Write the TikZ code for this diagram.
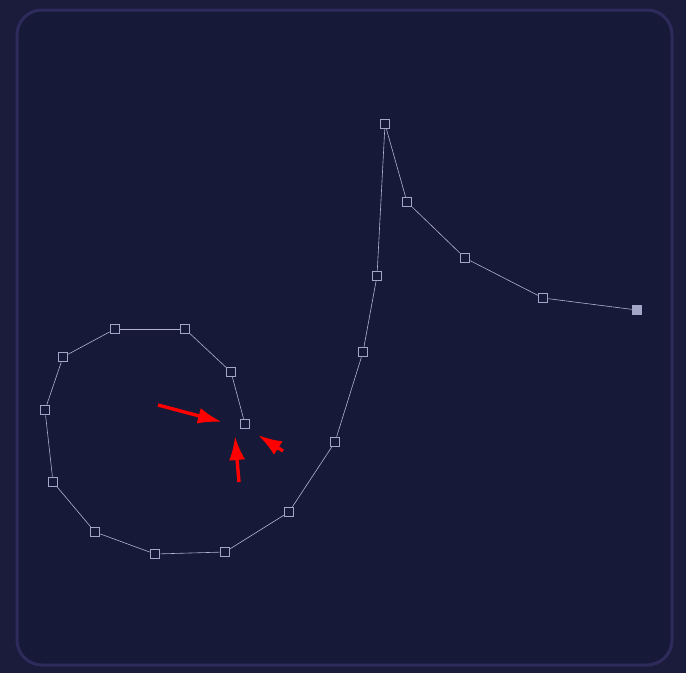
\documentclass[tikz,border=0pt]{standalone}
\usetikzlibrary{arrows.meta}
\definecolor{outerbg}{HTML}{1B1C3C}
\definecolor{innerbg}{HTML}{161A38}
\definecolor{frame}{HTML}{2E2A5C}
\definecolor{knot}{HTML}{A3A6C6}
\begin{document}
\begin{tikzpicture}[x=1pt, y=-1pt, pt/.style={draw=knot, line width=1.6pt, minimum size=9pt, inner sep=0pt}, endpt/.style={fill=knot, minimum size=10pt, inner sep=0pt}, seg/.style={draw=knot!85, line width=0.6pt}, arrow/.style={red, line width=3.4pt, -{Latex[length=24pt, width=16pt]}}]

\fill[outerbg] (0,0) rectangle (686,673);
\useasboundingbox (0,0) rectangle (686,673);
\draw[frame, fill=innerbg, line width=3pt, rounded corners=25pt] (17,10) rectangle (672,665);

\node[endpt] (p1) at (637,310) {};
\node[pt] (p2) at (543,298) {};
\node[pt] (p3) at (465,258) {};
\node[pt] (p4) at (407,202) {};
\node[pt] (p5) at (385,124) {};
\node[pt] (p6) at (377,276) {};
\node[pt] (p7) at (363,352) {};
\node[pt] (p8) at (335,442) {};
\node[pt] (p9) at (289,512) {};
\node[pt] (p10) at (225,552) {};
\node[pt] (p11) at (155,554) {};
\node[pt] (p12) at (95,532) {};
\node[pt] (p13) at (53,482) {};
\node[pt] (p14) at (45,410) {};
\node[pt] (p15) at (63,357) {};
\node[pt] (p16) at (115,329) {};
\node[pt] (p17) at (185,329) {};
\node[pt] (p18) at (231,372) {};
\node[pt] (p19) at (245,424) {};
\foreach \a/\b in {1/2,2/3,3/4,4/5,5/6,6/7,7/8,8/9,9/10,10/11,11/12,12/13,13/14,14/15,15/16,16/17,17/18,18/19}
  \draw[seg] (p\a) -- (p\b);

\coordinate (a1) at (158,405); \coordinate (h1) at (222,422);
\coordinate (a2) at (239,482); \coordinate (h2) at (235,436);
\coordinate (a3) at (283,451); \coordinate (h3) at (258,435);
\draw[arrow](a1)--(h1);\draw[arrow](a2)--(h2);\draw[arrow](a3)--(h3);

\end{tikzpicture}
\end{document}
